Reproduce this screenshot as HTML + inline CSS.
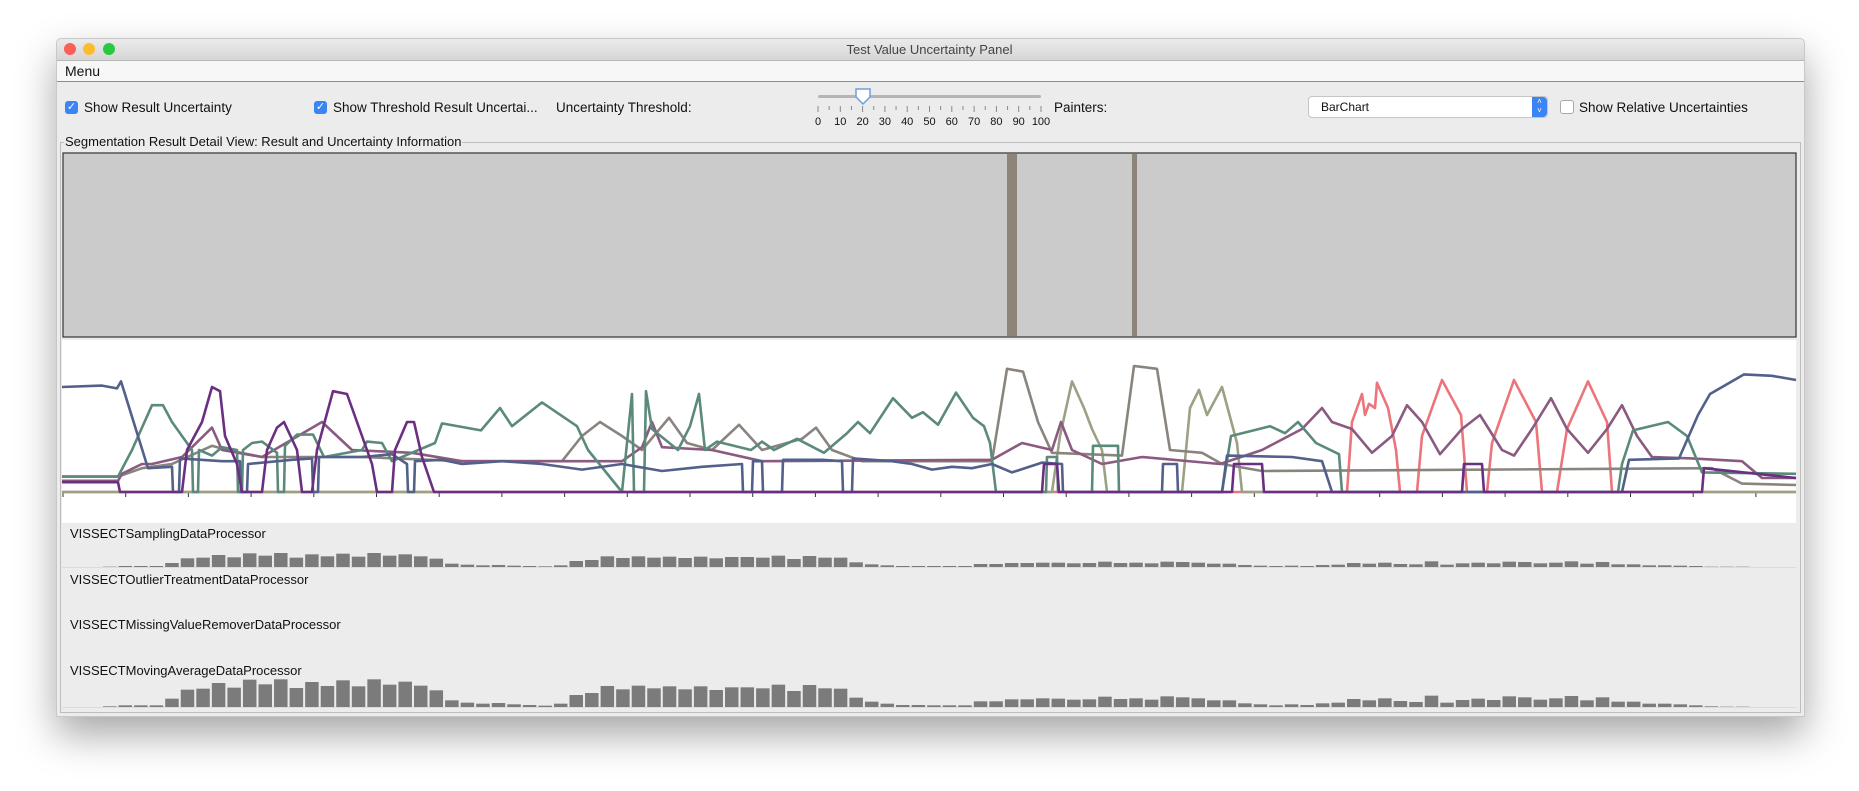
<!DOCTYPE html>
<html><head><meta charset="utf-8"><style>
body{margin:0;width:1859px;height:791px;background:#fff;position:relative;overflow:hidden;font-family:"Liberation Sans",sans-serif;}
.abs{position:absolute;}
#win{left:56px;top:38px;width:1747px;height:677px;background:#ececec;box-shadow:0 18px 40px rgba(0,0,0,.35);border:1px solid #c8c8c8;border-radius:5px 5px 0 0;}
.t{font-size:13px;color:#111;white-space:nowrap;}
.c{font-size:13.5px;}
.cb{width:13px;height:13px;border-radius:3px;background:#3a84f4;color:#fff;font-size:11px;line-height:13px;text-align:center;}
</style></head><body>
<div id="win" class="abs"></div>
<div class="abs" style="left:57px;top:39px;width:1747px;height:21px;background:linear-gradient(#ebebeb,#d6d6d6);border-bottom:1px solid #b8b8b8;border-radius:5px 5px 0 0;"></div>
<div class="abs" style="left:64px;top:43px;width:12px;height:12px;border-radius:50%;background:#fc5f57;"></div>
<div class="abs" style="left:83px;top:43px;width:12px;height:12px;border-radius:50%;background:#fdbc2e;"></div>
<div class="abs" style="left:103px;top:43px;width:12px;height:12px;border-radius:50%;background:#28c840;"></div>
<div class="abs t" style="left:0;width:1859px;text-align:center;top:42px;color:#444;">Test Value Uncertainty Panel</div>
<div class="abs" style="left:57px;top:61px;width:1747px;height:20px;background:#f7f7f7;border-bottom:1px solid #8e8e8e;"></div>
<div class="abs t" style="left:65px;top:63px;font-size:14px;">Menu</div>

<div class="abs cb" style="left:65px;top:101px;">✓</div>
<div class="abs t c" style="left:84px;top:100px;">Show Result Uncertainty</div>
<div class="abs cb" style="left:314px;top:101px;">✓</div>
<div class="abs t c" style="left:333px;top:100px;">Show Threshold Result Uncertai...</div>
<div class="abs t c" style="left:556px;top:100px;">Uncertainty Threshold:</div>
<svg class="abs" style="left:810px;top:86px;" width="245" height="45">
<rect x="8" y="9" width="223" height="3" fill="#b5b5b5" rx="1.5"/>
<g id="sl" stroke="#888" stroke-width="1"></g>
<g id="sll" font-family="Liberation Sans" font-size="11" fill="#111" text-anchor="middle"></g>
<path d="M46 3 h14 v8 l-7 7 l-7 -7z" fill="#fff" stroke="#6a9ee8" stroke-width="1.5"/>
</svg>
<div class="abs t c" style="left:1054px;top:100px;">Painters:</div>
<div class="abs" style="left:1308px;top:96px;width:238px;height:20px;background:#fff;border:1px solid #c5c5c5;border-radius:4px;"><span class="t" style="position:absolute;left:12px;top:3px;font-size:12px;">BarChart</span><div style="position:absolute;right:0;top:0;width:15px;height:20px;background:#3a84f4;border-radius:0 4px 4px 0;color:#fff;font-size:8px;line-height:9px;text-align:center;">˄<br>˅</div></div>
<div class="abs" style="left:1560px;top:100px;width:12px;height:12px;border:1px solid #aaa;border-radius:3px;background:#fff;"></div>
<div class="abs t c" style="left:1579px;top:100px;">Show Relative Uncertainties</div>

<div class="abs" style="left:60px;top:142px;width:1739px;height:569px;border:1px solid #bdbdbd;"></div>
<div class="abs t" style="left:64px;top:134px;background:#ececec;padding:0 1px;">Segmentation Result Detail View: Result and Uncertainty Information</div>

<svg class="abs" style="left:0;top:0;" width="1859" height="791" id="chart">
<rect x="63" y="153" width="1733" height="184" fill="#cbcbcb" stroke="#333" stroke-width="1.2"/>
<g id="segs"></g>
<rect x="62" y="340" width="1734" height="183" fill="#fff"/>
<g id="ticks" stroke="#333" stroke-width="1"></g>
<line x1="62" y1="492" x2="1796" y2="492" stroke="#333" stroke-width="1.5"/>
<g id="lines" fill="none" stroke-width="2.6" stroke-linejoin="round"></g>
<g id="bars"></g>
<g id="labels" font-family="Liberation Sans" font-size="13" fill="#111"></g>
</svg>
<script>
const sliderLabels=["0","10","20","30","40","50","60","70","80","90","100"];
const segStarts=[945,1070];
const segWidths=[10,5];
const seriesColors=["#ec747a","#9aa284","#8a847e","#8b5a80","#5b8a7b","#52608a","#6b2f82"];
const sSlate=[[0,.75],[40,.76],[55,.74],[59,.79],[86,.17],[110,.18],[111,0],[117,0],[118,.24],[160,.22],[178,.22],[179,0],[185,0],[186,.2],[230,.23],[250,.24],[251,0],[256,0],[257,.25],[300,.25],[330,.27],[345,.2],[346,0],[352,0],[353,.22],[380,.23],[400,.2],[440,.22],[480,.2],[520,.16],[560,.2],[600,.15],[640,.18],[680,.2],[681,0],[690,0],[691,.22],[700,.22],[701,0],[720,0],[721,.23],[760,.23],[780,.22],[781,0],[790,0],[791,.24],[830,.22],[850,.2],[870,.16],[890,.18],[910,.17],[930,.2],[950,.14],[980,.21],[1000,.2],[1001,0],[1100,0],[1101,.2],[1115,.2],[1116,0],[1160,0],[1165,.26],[1230,.25],[1260,.22],[1270,0],[1560,0],[1567,.23],[1617,.24],[1636,.55],[1648,.7],[1682,.84],[1710,.83],[1734,.8]];
const sGreen=[[0,.11],[56,.11],[70,.3],[90,.62],[101,.62],[110,.5],[125,.35],[130,.3],[131,0],[136,0],[137,.3],[150,.26],[160,.32],[175,.3],[176,0],[180,0],[181,.3],[190,.35],[200,.36],[215,.28],[216,0],[222,0],[223,.33],[235,.41],[251,.41],[262,.25],[300,.3],[305,.36],[320,.35],[330,.22],[373,.35],[380,.49],[419,.44],[438,.6],[450,.47],[480,.64],[515,.47],[526,.3],[560,0],[570,.7],[572,0],[582,0],[584,.72],[590,.45],[616,.3],[628,.47],[637,.7],[643,.3],[655,.36],[689,.3],[700,.36],[712,.3],[735,.38],[762,.28],[785,.42],[796,.5],[808,.42],[831,.67],[850,.53],[861,.57],[876,.48],[894,.71],[911,.53],[922,.47],[928,.35],[934,0],[984,0],[985,.25],[995,.25],[996,0],[1030,0],[1031,.33],[1056,.33],[1057,0],[1160,0],[1169,.4],[1208,.47],[1223,.42],[1236,.5],[1254,.35],[1277,.27],[1280,0],[1556,0],[1560,.2],[1571,.44],[1606,.5],[1625,.4],[1640,.14],[1734,.13]];
const sMauve=[[0,.08],[56,.08],[60,.13],[80,.2],[90,.2],[120,.25],[150,.46],[160,.3],[200,.25],[260,.5],[290,.3],[350,.28],[400,.22],[560,.22],[580,.32],[590,.5],[600,.32],[650,.3],[700,.22],[930,.23],[960,.35],[990,.3],[999,.5],[1010,.3],[1040,.2],[1080,.25],[1158,.2],[1200,.3],[1240,.45],[1260,.6],[1270,.5],[1290,.45],[1310,.28],[1330,.4],[1345,.62],[1360,.5],[1378,.27],[1400,.45],[1418,.55],[1440,.3],[1452,.26],[1470,.45],[1489,.67],[1505,.45],[1526,.28],[1545,.45],[1560,.62],[1575,.4],[1590,.25],[1630,.24],[1680,.22],[1700,.1],[1734,.1]];
const sGray=[[0,.11],[56,.11],[80,.17],[110,.2],[150,.33],[165,.3],[200,.25],[300,.25],[400,.22],[500,.22],[520,.4],[538,.5],[560,.4],[580,.3],[607,.53],[625,.35],[650,.3],[677,.48],[700,.3],[740,.38],[754,.46],[770,.3],[800,.22],[930,.22],[945,.88],[961,.86],[976,.5],[990,.28],[1060,.26],[1072,.9],[1095,.88],[1108,.3],[1140,.28],[1160,.2],[1200,.15],[1650,.17],[1680,.06],[1734,.05]];
const sOlive=[[0,0],[990,0],[998,.4],[1010,.79],[1022,.6],[1030,.45],[1040,.3],[1045,0],[1120,0],[1128,.6],[1137,.73],[1145,.55],[1160,.75],[1175,.35],[1180,0],[1734,0]];
const sRed=[[0,0],[1285,0],[1290,.5],[1300,.7],[1303,.55],[1307,.63],[1313,.6],[1315,.78],[1326,.6],[1334,.3],[1338,0],[1355,0],[1360,.4],[1380,.8],[1399,.55],[1405,0],[1425,0],[1430,.35],[1452,.8],[1474,.5],[1480,0],[1495,0],[1505,.45],[1526,.79],[1545,.5],[1550,0],[1734,0]];
const sPurple=[[0,.07],[56,.07],[58,0],[120,0],[125,.3],[140,.5],[150,.75],[158,.72],[163,.4],[175,.2],[180,0],[200,0],[205,.3],[215,.46],[222,.5],[235,.3],[240,0],[250,0],[255,.3],[271,.72],[285,.7],[300,.4],[310,.2],[315,0],[330,0],[333,.3],[345,.5],[352,.5],[360,.25],[372,0],[980,0],[982,.2],[995,.2],[997,0],[1170,0],[1172,.2],[1200,.2],[1202,0],[1400,0],[1402,.2],[1420,.2],[1422,0],[1640,0],[1642,.17],[1734,.1]];
const lineSeries=[sRed,sOlive,sGray,sMauve,sGreen,sSlate,sPurple];
const barLabels=["VISSECTSamplingDataProcessor","VISSECTOutlierTreatmentDataProcessor","VISSECTMissingValueRemoverDataProcessor","VISSECTMovingAverageDataProcessor"];
const movingAvgValues=[2,5,5,5,25,52,55,72,58,82,68,83,57,75,63,80,62,83,67,76,64,50,20,13,10,12,8,6,4,10,36,42,63,53,64,56,62,53,62,51,59,59,56,67,48,66,56,55,28,16,10,6,6,5,5,5,17,17,23,23,26,25,22,23,31,24,26,22,32,29,26,20,20,11,8,5,8,6,11,13,24,20,26,18,15,34,13,21,25,21,32,29,22,26,33,20,29,16,16,10,10,8,5,2,1,1];
const samplingValues=[1,3,3,3,12,26,28,36,29,41,34,42,28,38,32,40,31,42,34,38,32,25,10,7,5,6,4,3,2,5,18,21,32,27,32,28,31,27,31,26,30,30,28,34,24,33,28,28,14,8,5,3,3,3,3,3,9,9,12,12,13,13,11,12,16,12,13,11,16,15,13,10,10,6,4,3,4,3,6,7,12,10,13,9,8,17,7,11,13,11,16,15,11,13,17,10,15,8,8,5,5,4,3,1,1,1];
const NS="http://www.w3.org/2000/svg";
function mk(tag,attrs,parent){const e=document.createElementNS(NS,tag);for(const k in attrs)e.setAttribute(k,attrs[k]);parent.appendChild(e);return e;}
const X=t=>62+t;const Y=v=>492-v*140;
const sl=document.getElementById('sl'),sll=document.getElementById('sll');
for(let i=0;i<=20;i++){const x=8+i*223/20;const ln=mk('line',{x1:x,x2:x,y1:20,y2:i%2?24:26},sl);}
sliderLabels.forEach((s,i)=>{const t=mk('text',{x:8+i*223/10,y:39},sll);t.textContent=s;});
const segs=document.getElementById('segs');
segStarts.forEach((s,i)=>{const r=mk('rect',{x:62+s,y:154,width:segWidths[i],height:182,fill:'#8d857a'},segs);});
const tk=document.getElementById('ticks');
for(let x=63;x<1796;x+=62.7){const l=mk('line',{x1:x,x2:x,y1:492,y2:497},tk);}
const lg=document.getElementById('lines');
lineSeries.forEach((s,i)=>{const p=mk('polyline',{points:s.map(d=>X(d[0])+','+Y(d[1])).join(' '),stroke:seriesColors[i]},lg);});
const bg=document.getElementById('bars');
function drawBars(vals,base,scale,name){vals.forEach((v,i)=>{const h=v*scale;const r=mk('rect',{x:103+i*15.55,y:base-h,width:13.5,height:h,fill:'#7b7b7b'},bg);});
 mk('line',{x1:62,x2:1796,y1:base+.5,y2:base+.5,stroke:'#dcdcdc'},bg);}
drawBars(samplingValues,567,1/3,'sampling-bar');
drawBars(movingAvgValues,707,1/3,'moving-average-bar');
const lb=document.getElementById('labels');
[538,584,629,675].forEach((y,i)=>{const t=mk('text',{x:70,y:y},lb);t.textContent=barLabels[i];});
</script>
</body></html>
